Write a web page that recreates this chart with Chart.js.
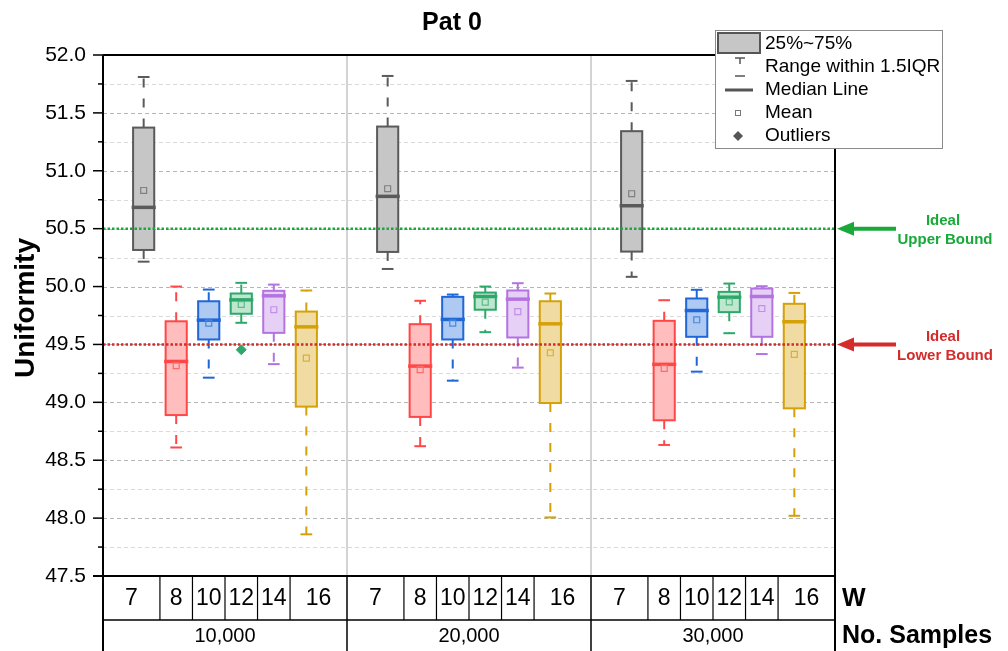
<!DOCTYPE html>
<html><head><meta charset="utf-8">
<script src="https://cdn.jsdelivr.net/npm/chart.js@4.4.0/dist/chart.umd.min.js"></script>
<style>html,body{margin:0;padding:0;background:#fff;}canvas{display:block;}</style>
</head><body>
<canvas id="c" width="1008" height="651"></canvas>
<script>
// ---------- DATA ----------
const title = 'Pat 0';
const yTitle = 'Uniformity';
const groups = ['10,000', '20,000', '30,000'];
const wValues = ['7', '8', '10', '12', '14', '16'];
// order: group 10,000 (W 7..16), group 20,000, group 30,000
const whiskerLow = [50.215, 48.61, 49.213, 49.687, 49.33, 47.86,
                    50.152, 48.621, 49.187, 49.606, 49.30, 48.006,
                    50.084, 48.632, 49.265, 49.597, 49.417, 48.02];
const q1 =         [50.316, 48.89, 49.543, 49.765, 49.60, 48.963,
                    50.299, 48.874, 49.543, 49.80, 49.56, 48.994,
                    50.302, 48.845, 49.566, 49.779, 49.566, 48.948];
const median =     [50.684, 49.353, 49.71, 49.885, 49.92, 49.652,
                    50.779, 49.313, 49.716, 49.914, 49.891, 49.678,
                    50.698, 49.328, 49.793, 49.908, 49.914, 49.696];
const q3 =         [51.373, 49.70, 49.873, 49.94, 49.963, 49.784,
                    51.382, 49.675, 49.911, 49.948, 49.966, 49.873,
                    51.342, 49.704, 49.897, 49.954, 49.983, 49.851];
const whiskerHigh =[51.81, 50.0, 49.974, 50.032, 50.017, 49.966,
                    51.819, 49.877, 49.931, 50.0, 50.029, 49.94,
                    51.776, 49.882, 49.972, 50.026, 50.003, 49.945];
const mean =       [50.83, 49.316, 49.684, 49.845, 49.80, 49.382,
                    50.845, 49.282, 49.684, 49.865, 49.784, 49.428,
                    50.802, 49.293, 49.713, 49.868, 49.81, 49.414];
const outlierGroup = [0];
const outlierW = [3];
const outlierValue = [49.454];
const upperBound = 50.5;
const lowerBound = 49.5;
const yMin = 47.5, yMax = 52.0, yStep = 0.25;

// ---------- STYLE ----------
const FONT = "'Liberation Sans', Arial, sans-serif";
const borders = ['#5a5a5a', '#ff4747', '#1f66d9', '#2ea86a', '#b373e0', '#d4a106'];
const fills   = ['#c6c6c6', '#ffbdbd', '#aecaf3', '#bfe7d0', '#e6d0f5', '#f0dca2'];
const meanCols = ['#808080', '#ff6a6a', '#4a86e0', '#5bbb88', '#c190e6', '#d9b030'];
const cellW = [1.75, 1, 1, 1, 1, 1.75];          // table cell widths (x units)
const GROUP_SPAN = cellW.reduce((a, b) => a + b, 0);
const FIRST_BOX = 1.25;
const BOX_W = 0.65, CAP_W = 0.36;
const greenC = '#19a83a', redC = '#d42b2b';

const xOf = (g, i) => g * GROUP_SPAN + FIRST_BOX + i;

const meanPts = [], meanPtCols = [];
groups.forEach((_, g) => wValues.forEach((_, i) => {
  meanPts.push({x: xOf(g, i), y: mean[g * wValues.length + i]});
  meanPtCols.push(meanCols[i]);
}));
const outPts = outlierValue.map((v, k) => ({x: xOf(outlierGroup[k], outlierW[k]), y: v}));
const xMax = GROUP_SPAN * groups.length;

function line(ctx, x1, y1, x2, y2) { ctx.beginPath(); ctx.moveTo(x1, y1); ctx.lineTo(x2, y2); ctx.stroke(); }

const boxPlugin = {
  id: 'boxes',
  beforeDatasetsDraw(chart) {
    const {ctx, chartArea: ca, scales: {x, y}} = chart;
    ctx.save();
    // horizontal grid
    y.ticks.forEach(t => {
      const v = t.value;
      if (v <= yMin + 1e-6 || v >= yMax - 1e-6) return;
      const major = Math.abs(v * 2 - Math.round(v * 2)) < 1e-6;
      ctx.strokeStyle = major ? '#b5b5b5' : '#dadada';
      ctx.lineWidth = 1;
      ctx.setLineDash([4, 3]);
      const py = Math.round(y.getPixelForValue(v)) + 0.5;
      line(ctx, ca.left, py, ca.right, py);
    });
    ctx.setLineDash([]);
    // group separators
    ctx.strokeStyle = '#c4c4c4'; ctx.lineWidth = 1.5;
    for (let g = 1; g < groups.length; g++) {
      const px = x.getPixelForValue(g * GROUP_SPAN);
      line(ctx, px, ca.top, px, ca.bottom);
    }
    // boxes
    const half = (x.getPixelForValue(BOX_W) - x.getPixelForValue(0)) / 2;
    const capHalf = (x.getPixelForValue(CAP_W) - x.getPixelForValue(0)) / 2;
    groups.forEach((_, g) => wValues.forEach((_, i) => {
      const k = g * wValues.length + i;
      const cx = x.getPixelForValue(xOf(g, i));
      const pLo = y.getPixelForValue(whiskerLow[k]);
      const pQ1 = y.getPixelForValue(q1[k]);
      const pMed = y.getPixelForValue(median[k]);
      const pQ3 = y.getPixelForValue(q3[k]);
      const pHi = y.getPixelForValue(whiskerHigh[k]);
      ctx.strokeStyle = borders[i];
      ctx.lineWidth = 2;
      ctx.setLineDash([9, 11]);
      line(ctx, cx, pQ3, cx, pHi);
      line(ctx, cx, pQ1, cx, pLo);
      ctx.setLineDash([]);
      line(ctx, cx - capHalf, pHi, cx + capHalf, pHi);
      line(ctx, cx - capHalf, pLo, cx + capHalf, pLo);
      ctx.fillStyle = fills[i];
      ctx.fillRect(cx - half, pQ3, 2 * half, pQ1 - pQ3);
      ctx.strokeRect(cx - half, pQ3, 2 * half, pQ1 - pQ3);
      ctx.lineWidth = 3.5;
      line(ctx, cx - half - 1.5, pMed, cx + half + 1.5, pMed);
    }));
    ctx.restore();
  },
  afterDraw(chart) {
    const {ctx, chartArea: ca, scales: {x, y}} = chart;
    const H = chart.height;
    ctx.save();
    ctx.strokeStyle = '#000';
    // ticks
    y.ticks.forEach(t => {
      const v = t.value;
      const major = Math.abs(v * 2 - Math.round(v * 2)) < 1e-6;
      const py = y.getPixelForValue(v);
      ctx.lineWidth = 1.5;
      line(ctx, ca.left - (major ? 10 : 5), py, ca.left, py);
    });
    // frame
    ctx.lineWidth = 2;
    line(ctx, ca.left, ca.top, ca.right, ca.top);
    line(ctx, ca.left, ca.top, ca.left, H);
    line(ctx, ca.right, ca.top, ca.right, H);
    ctx.lineWidth = 1.8;
    line(ctx, ca.left - 10, ca.bottom, ca.right, ca.bottom);
    // table
    const row1 = ca.bottom, row2 = ca.bottom + 44;
    ctx.lineWidth = 1.5;
    line(ctx, ca.left, row2, ca.right, row2);
    ctx.lineWidth = 1.2;
    ctx.fillStyle = '#000';
    ctx.textAlign = 'center'; ctx.textBaseline = 'middle';
    groups.forEach((gl, g) => {
      let acc = g * GROUP_SPAN;
      wValues.forEach((w, i) => {
        const a = x.getPixelForValue(acc), b = x.getPixelForValue(acc + cellW[i]);
        if (i > 0) line(ctx, a, row1, a, row2);
        ctx.font = '23px ' + FONT;
        ctx.fillText(w, (a + b) / 2, (row1 + row2) / 2 + 1);
        acc += cellW[i];
      });
      if (g > 0) {
        ctx.lineWidth = 1.5;
        const px = x.getPixelForValue(g * GROUP_SPAN);
        line(ctx, px, row1, px, H);
        ctx.lineWidth = 1.2;
      }
      ctx.font = '20px ' + FONT;
      ctx.fillText(gl, x.getPixelForValue((g + 0.5) * GROUP_SPAN), (row2 + H) / 2 + 1);
    });
    ctx.textAlign = 'left';
    ctx.font = 'bold 25px ' + FONT;
    ctx.fillText('W', ca.right + 7, (row1 + row2) / 2 + 1);
    ctx.fillText('No. Samples', ca.right + 7, (row2 + H) / 2 + 1);
    // title
    ctx.textAlign = 'center';
    ctx.font = 'bold 25px ' + FONT;
    ctx.fillText(title, 452, 23);
    // y title
    ctx.save();
    ctx.translate(26, 308);
    ctx.rotate(-Math.PI / 2);
    ctx.font = 'bold 28px ' + FONT;
    ctx.fillText(yTitle, 0, 0);
    ctx.restore();
    // arrows + bound labels
    [[upperBound, greenC, 'Upper Bound'], [lowerBound, redC, 'Lower Bound']].forEach(([v, c, lab]) => {
      const py = y.getPixelForValue(v);
      const tip = ca.right + 2;
      ctx.strokeStyle = c; ctx.fillStyle = c; ctx.lineWidth = 4;
      line(ctx, tip + 12, py, tip + 59, py);
      ctx.beginPath();
      ctx.moveTo(tip, py); ctx.lineTo(tip + 17, py - 7); ctx.lineTo(tip + 17, py + 7); ctx.closePath(); ctx.fill();
      ctx.font = 'bold 15px ' + FONT;
      ctx.textAlign = 'center';
      ctx.fillText('Ideal', 943, py - 8);
      ctx.fillText(lab, 945, py + 11);
    });
    // legend
    ctx.fillStyle = '#fff';
    ctx.fillRect(715, 30, 228, 119);
    ctx.strokeStyle = '#8a8a8a'; ctx.lineWidth = 1;
    ctx.strokeRect(715.5, 30.5, 227, 118);
    ctx.fillStyle = '#c6c6c6';
    ctx.fillRect(718, 33, 42, 20);
    ctx.strokeStyle = '#555'; ctx.lineWidth = 2;
    ctx.strokeRect(718, 33, 42, 20);
    ctx.lineWidth = 1.5;
    line(ctx, 735, 58, 745, 58);
    line(ctx, 740, 58, 740, 64);
    line(ctx, 735, 76, 745, 76);
    ctx.lineWidth = 3;
    line(ctx, 725, 90, 753, 90);
    ctx.lineWidth = 1;
    ctx.strokeStyle = '#777';
    ctx.strokeRect(735.5, 110.5, 5, 5);
    ctx.fillStyle = '#555';
    ctx.beginPath();
    ctx.moveTo(738, 131); ctx.lineTo(743, 136); ctx.lineTo(738, 141); ctx.lineTo(733, 136); ctx.closePath(); ctx.fill();
    ctx.fillStyle = '#000';
    ctx.textAlign = 'left'; ctx.textBaseline = 'middle';
    ctx.font = '19px ' + FONT;
    ['25%~75%', 'Range within 1.5IQR', 'Median Line', 'Mean', 'Outliers'].forEach((t, r) => {
      ctx.fillText(t, 765, 44 + r * 23);
    });
    ctx.restore();
  }
};

new Chart(document.getElementById('c'), {
  type: 'scatter',
  data: {
    datasets: [
      {label: 'Outliers', data: outPts, pointStyle: 'rectRot', pointRadius: 5,
       backgroundColor: borders[3], borderColor: borders[3], borderWidth: 1},
      {label: 'Mean', data: meanPts, pointStyle: 'rect', pointRadius: 4.2,
       backgroundColor: 'rgba(0,0,0,0)', borderColor: meanPtCols, borderWidth: 1.2},
      {type: 'line', label: 'Upper', data: [{x: 0, y: upperBound}, {x: xMax, y: upperBound}],
       borderColor: greenC, borderWidth: 2.5, borderDash: [2.5, 2], pointRadius: 0},
      {type: 'line', label: 'Lower', data: [{x: 0, y: lowerBound}, {x: xMax, y: lowerBound}],
       borderColor: redC, borderWidth: 2.5, borderDash: [2.5, 2], pointRadius: 0}
    ]
  },
  options: {
    responsive: false, animation: false, devicePixelRatio: 1,
    layout: {padding: {left: 0, top: 55, right: 173, bottom: 75}},
    plugins: {legend: {display: false}, tooltip: {enabled: false}, title: {display: false}},
    scales: {
      x: {type: 'linear', min: 0, max: xMax, display: false},
      y: {
        type: 'linear', min: yMin, max: yMax,
        afterFit(s) { s.width = 103; },
        ticks: {stepSize: yStep, padding: 7, color: '#000', font: {family: FONT, size: 21},
          callback: v => (Math.abs(v * 2 - Math.round(v * 2)) < 1e-6 ? v.toFixed(1) : '')},
        grid: {display: true, drawOnChartArea: false, drawTicks: true, tickLength: 10, color: 'rgba(0,0,0,0)'},
        border: {display: false}
      }
    }
  },
  plugins: [boxPlugin]
});
</script>
</body></html>
